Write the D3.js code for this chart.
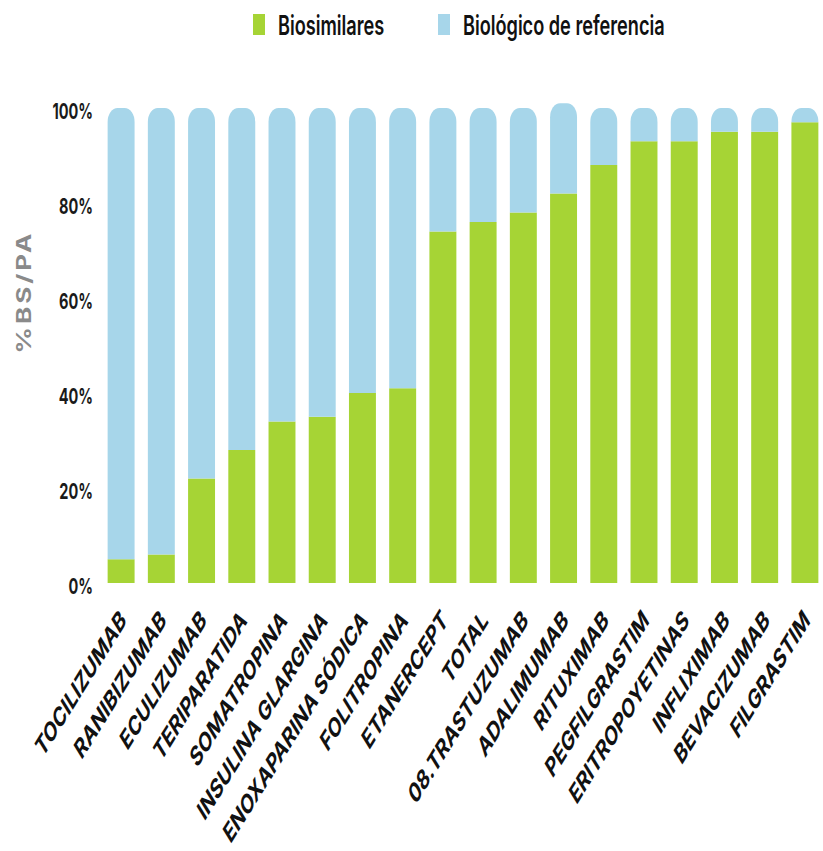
<!DOCTYPE html>
<html>
<head>
<meta charset="utf-8">
<script src="https://d3js.org/d3.v7.min.js"></script>
<style>
  body { margin: 0; background: #fff; }
  text { font-family: Inter, "Open Sans", sans-serif; }
</style>
</head>
<body>
<svg width="823" height="851"></svg>
<script>
// data (% of units)
var categories = ["TOCILIZUMAB", "RANIBIZUMAB", "ECULIZUMAB", "TERIPARATIDA", "SOMATROPINA",
  "INSULINA GLARGINA", "ENOXAPARINA SÓDICA", "FOLITROPINA", "ETANERCEPT", "TOTAL",
  "08.TRASTUZUMAB", "ADALIMUMAB", "RITUXIMAB", "PEGFILGRASTIM", "ERITROPOYETINAS",
  "INFLIXIMAB", "BEVACIZUMAB", "FILGRASTIM"];
var biosimilares = [5, 6, 22, 28, 34, 35, 40, 41, 74, 76, 78, 82, 88, 93, 93, 95, 95, 97];
var referencia = [95, 94, 78, 72, 66, 65, 60, 59, 26, 24, 22, 19, 12, 7, 7, 5, 5, 3];
var yTicks = [0, 20, 40, 60, 80, 100];
var seriesNames = ["Biosimilares", "Biológico de referencia"];

var green = "#a6d435", blue = "#a7d6ea";
var squeeze = 0.66; // the picture is narrower than it is tall

var svg = d3.select("svg");

var x = d3.scaleBand().domain(categories).range([101, 825]).paddingInner(0.33).paddingOuter(0.165);
var y = d3.scaleLinear().domain([0, 100]).range([583, 108]);

var data = categories.map(function(c, i) {
  return { name: c, bs: biosimilares[i], ref: referencia[i] };
});

// top rounded segment
function capPath(x0, w, yTop, yBot) {
  var rx = 10, ry = 14;
  return "M" + x0 + "," + yBot +
    "V" + (yTop + ry) +
    "A" + rx + "," + ry + " 0 0 1 " + (x0 + rx) + "," + yTop +
    "H" + (x0 + w - rx) +
    "A" + rx + "," + ry + " 0 0 1 " + (x0 + w) + "," + (yTop + ry) +
    "V" + yBot + "Z";
}

var g = svg.append("g");

g.selectAll(".bs")
  .data(data)
  .enter().append("rect")
  .attr("class", "bs")
  .attr("x", function(d) { return x(d.name); })
  .attr("width", x.bandwidth())
  .attr("y", function(d) { return y(d.bs); })
  .attr("height", function(d) { return y(0) - y(d.bs); })
  .attr("fill", green);

g.selectAll(".ref")
  .data(data)
  .enter().append("path")
  .attr("class", "ref")
  .attr("d", function(d) { return capPath(x(d.name), x.bandwidth(), y(d.bs + d.ref), y(d.bs)); })
  .attr("fill", blue);

// y tick labels
g.selectAll(".ytick")
  .data(yTicks)
  .enter().append("text")
  .attr("class", "ytick")
  .attr("transform", function(d) { return "translate(93," + (y(d) + 3) + ") scale(" + squeeze + ",1)"; })
  .attr("text-anchor", "end")
  .attr("dy", "0.35em")
  .attr("font-size", "22px")
  .attr("font-weight", 700)
  .attr("fill", "#1a1a1a")
  .text(function(d) { return d + "%"; });

// y title
svg.append("text")
  .attr("transform", "translate(31,292) scale(0.75,1) rotate(-90)")
  .attr("text-anchor", "middle")
  .attr("font-family", "DejaVu Sans")
  .attr("font-size", "26px")
  .attr("font-weight", 700)
  .attr("letter-spacing", "3px")
  .attr("fill", "#8a8a8a")
  .text("%BS/PA");

// x labels
g.selectAll(".xlab")
  .data(categories)
  .enter().append("text")
  .attr("class", "xlab")
  .attr("transform", function(d) {
    return "translate(" + (x(d) + x.bandwidth() / 2 + 6) + ",622) scale(0.62,1) rotate(-45)";
  })
  .attr("text-anchor", "end")
  .attr("font-family", "DejaVu Sans")
  .attr("font-size", "27.5px")
  .attr("font-weight", 700)
  .attr("fill", "#111")
  .text(function(d) { return d; });

// legend
var legendX = [253, 438];
var legend = svg.selectAll(".leg")
  .data(seriesNames)
  .enter().append("g")
  .attr("class", "leg")
  .attr("transform", function(d, i) { return "translate(" + legendX[i] + ",14)"; });
legend.append("rect")
  .attr("width", 12).attr("height", 21)
  .attr("fill", function(d, i) { return i === 0 ? green : blue; });
legend.append("text")
  .attr("transform", "translate(25,11) scale(" + squeeze + ",1)")
  .attr("dy", "0.35em")
  .attr("font-size", "27.5px")
  .attr("font-weight", 600)
  .attr("fill", "#111")
  .text(function(d) { return d; });
</script>
</body>
</html>
